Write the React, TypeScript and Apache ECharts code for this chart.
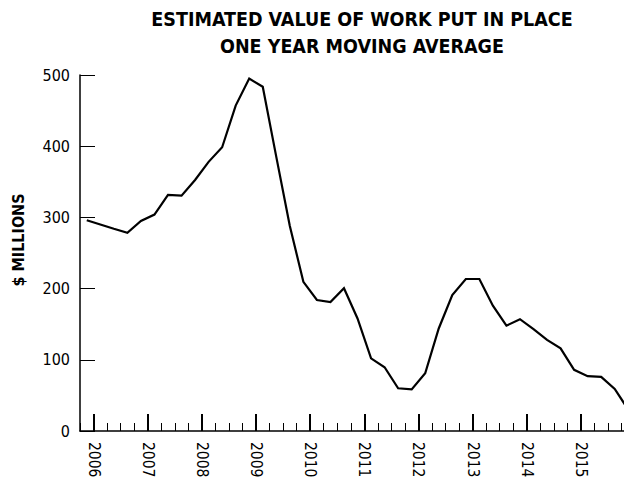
import React, { useEffect, useRef } from "react";
import * as echarts from "echarts";

const titleLines = ["ESTIMATED VALUE OF WORK PUT IN PLACE", "ONE YEAR MOVING AVERAGE"];
const yAxisName = "$ MILLIONS";
const yTicks = [0, 100, 200, 300, 400, 500];
const yearLabels = [2006, 2007, 2008, 2009, 2010, 2011, 2012, 2013, 2014, 2015];
// quarterly points, mid-quarter positions starting at 2005.875
const startPos = 2005.875;
const values = [
  296, 290, 284, 278.5, 295, 304, 331.5, 330.5, 352.5, 378,
  398.5, 457, 495, 483.5, 385, 288, 209.5, 184, 181, 200.5,
  158, 102, 89.5, 60, 58.5, 81, 144, 191, 213.5, 213.5,
  176, 148, 157, 143, 128, 116, 86, 77, 76, 59,
  30,
];

const FONT = "'Liberation Sans Narrow', 'DejaVu Sans Condensed', 'Liberation Sans', sans-serif";

export default function App() {
  const ref = useRef<HTMLDivElement>(null);
  useEffect(() => {
    if (!ref.current) return;
    const chart = echarts.init(ref.current, null, { renderer: "svg" });
    const P = 54.15;
    const data = values.map((v, i) => [startPos + 0.25 * i, v]);
    chart.setOption({
      animation: false,
      backgroundColor: "#ffffff",
      graphic: [
        ...titleLines.map((t, i) => ({
          type: "text",
          x: 362,
          y: 19 + i * 27,
          style: {
            text: t,
            align: "center",
            verticalAlign: "middle",
            fontFamily: FONT,
            fontWeight: "bold",
            fontSize: 19.5,
            fill: "#000",
          },
        })),
        {
          type: "text",
          x: 18,
          y: 240,
          rotation: Math.PI / 2,
          style: {
            text: yAxisName,
            align: "center",
            verticalAlign: "middle",
            fontFamily: FONT,
            fontWeight: "bold",
            fontSize: 16,
            fill: "#000",
          },
        },
      ],
      grid: [
        { left: 80, top: 75, height: 356, width: 10.25 * P, outerBoundsMode: "none", containLabel: false },
        { left: 80 + 0.25 * P, top: 75, height: 356, width: 10 * P, outerBoundsMode: "none", containLabel: false },
      ],
      xAxis: [
        {
          type: "value",
          gridIndex: 0,
          min: 2005.75,
          max: 2016,
          interval: 0.25,
          axisLine: { show: true, onZero: false, lineStyle: { color: "#000", width: 1.5 } },
          axisTick: { show: true, inside: true, length: 8, lineStyle: { color: "#000", width: 1 } },
          axisLabel: { show: false },
          splitLine: { show: false },
        },
        {
          type: "value",
          gridIndex: 1,
          min: yearLabels[0],
          max: 2016,
          interval: 1,
          axisLine: { show: false, onZero: false },
          axisTick: { show: true, inside: true, length: 17, lineStyle: { color: "#000", width: 2 } },
          axisLabel: {
            show: true,
            rotate: -90,
            margin: 11,
            fontFamily: FONT,
            fontSize: 15.5,
            color: "#000",
            formatter: (v: number) => (yearLabels.includes(v) ? String(v) : ""),
          },
          splitLine: { show: false },
        },
      ],
      yAxis: [
        {
          type: "value",
          gridIndex: 0,
          min: yTicks[0],
          max: yTicks[yTicks.length - 1],
          interval: 100,
          axisLine: { show: true, lineStyle: { color: "#000", width: 1.5 } },
          axisTick: { show: true, inside: true, length: 15, lineStyle: { color: "#000", width: 1 } },
          axisLabel: { margin: 10, fontFamily: FONT, fontSize: 16, color: "#000" },
          splitLine: { show: false },
        },
        {
          type: "value",
          gridIndex: 1,
          min: 0,
          max: 500,
          show: false,
          splitLine: { show: false },
        },
      ],
      series: [
        {
          type: "line",
          xAxisIndex: 0,
          yAxisIndex: 0,
          data,
          showSymbol: false,
          symbol: "none",
          clip: false,
          lineStyle: { color: "#000", width: 2.2, join: "miter" },
        },
      ],
    });
    return () => chart.dispose();
  }, []);
  return <div ref={ref} style={{ width: 624, height: 478, position: "absolute", left: 0, top: 0 }} />;
}
